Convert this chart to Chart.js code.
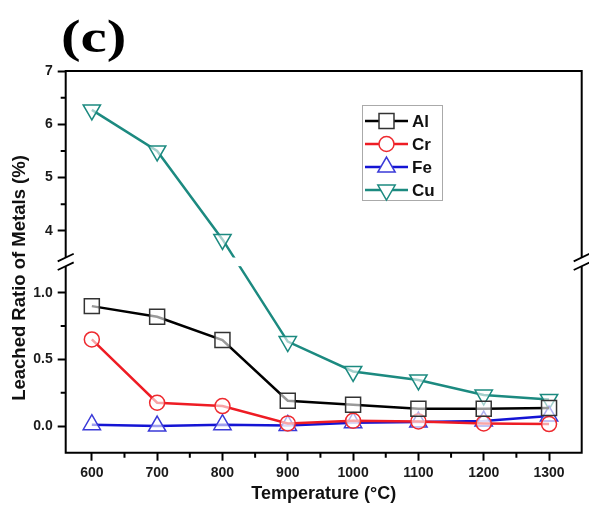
<!DOCTYPE html>
<html><head><meta charset="utf-8">
<script src="https://cdn.jsdelivr.net/npm/chart.js@4/dist/chart.umd.min.js"></script>
<style>html,body{margin:0;padding:0;background:#fff;overflow:hidden;}#wrap{width:589px;height:512px;position:relative;}</style>
</head><body><div id="wrap"><canvas id="c"></canvas></div>
<script>
// ---- data ----
const TEMPERATURES = [600, 700, 800, 900, 1000, 1100, 1200, 1300];
const AL = [0.90, 0.82, 0.645, 0.19, 0.16, 0.13, 0.13, 0.135];
const CR = [0.65, 0.175, 0.15, 0.02, 0.04, 0.035, 0.02, 0.015];
const FE = [0.01, 0.0, 0.01, 0.005, 0.025, 0.03, 0.037, 0.075];
const CU = [6.27, 5.5, 3.84, 0.634, 0.41, 0.346, 0.233, 0.20];
const SERIES_NAMES = ['Al', 'Cr', 'Fe', 'Cu'];
const X_TICKS = [600, 700, 800, 900, 1000, 1100, 1200, 1300];
const X_MINOR = [650, 750, 850, 950, 1050, 1150, 1250];
const Y_TICKS_LOW = [0.0, 0.5, 1.0];
const Y_TICKS_HIGH = [4, 5, 6, 7];
const Y_MINOR = [0.25, 0.75, 4.5, 5.5, 6.5];
const Y_LOW_RANGE = [-0.2, 1.2];
const Y_HIGH_RANGE = [3.5, 7];
const X_RANGE = [560, 1350];
const TITLE_TEXT = '(c)';
const X_TITLE = 'Temperature (\u00B0C)';
const Y_TITLE = 'Leached Ratio of Metals (%)';

const GAP_FRAC = 0.0225;

class BrokenLinearScale extends Chart.LinearScale {
  static id = 'brokenLinear';
  buildTicks() {
    return [...Y_TICKS_LOW, ...Y_TICKS_HIGH].map(v => ({ value: v }));
  }
  _dec(v) {
    const [a, b] = Y_LOW_RANGE, [c, d] = Y_HIGH_RANGE;
    const seg = (1 - GAP_FRAC) / 2;
    if (v <= b) return (v - a) / (b - a) * seg;
    if (v >= c) return seg + GAP_FRAC + (v - c) / (d - c) * seg;
    return seg + (v - b) / (c - b) * GAP_FRAC;
  }
  getPixelForValue(v) {
    if (v === null || v === undefined || isNaN(v)) return NaN;
    return this.getPixelForDecimal(this._dec(v));
  }
  getValueForPixel(p) {
    const f = this.getDecimalForPixel(p);
    const [a, b] = Y_LOW_RANGE, [c, d] = Y_HIGH_RANGE;
    const seg = (1 - GAP_FRAC) / 2;
    if (f <= seg) return a + f / seg * (b - a);
    if (f >= seg + GAP_FRAC) return c + (f - seg - GAP_FRAC) / seg * (d - c);
    return b + (f - seg) / GAP_FRAC * (c - b);
  }
}
Chart.register(BrokenLinearScale);

const pts = arr => TEMPERATURES.map((t, i) => ({ x: t, y: arr[i] }));

const TICK_FONT = { family: '"Liberation Sans", Arial, sans-serif', size: 14, weight: 'bold' };
const MARKER_FILL = 'rgba(255,255,255,0.6)';

const decoPlugin = {
  id: 'deco',
  afterDatasetsDraw(chart) {
    const { ctx, chartArea: ca } = chart;
    const ys = chart.scales.y, xs = chart.scales.x;
    const gTop = ys.getPixelForValue(Y_HIGH_RANGE[0]);
    const gBot = ys.getPixelForValue(Y_LOW_RANGE[1]);
    ctx.save();
    ctx.fillStyle = '#fff';
    ctx.fillRect(ca.left + 1, gTop, ca.right - ca.left - 2, gBot - gTop);
    ctx.strokeStyle = '#000';
    ctx.lineWidth = 2;
    ctx.lineCap = 'butt';
    ctx.beginPath();
    ctx.moveTo(ca.left - 1, ca.top); ctx.lineTo(ca.right + 1, ca.top);
    ctx.moveTo(ca.left - 1, ca.bottom); ctx.lineTo(ca.right + 1, ca.bottom);
    [ca.left, ca.right].forEach(x => {
      ctx.moveTo(x, ca.top); ctx.lineTo(x, gTop);
      ctx.moveTo(x, gBot); ctx.lineTo(x, ca.bottom);
    });
    ctx.stroke();
    ctx.lineWidth = 1.8;
    ctx.beginPath();
    [ca.left, ca.right].forEach(x => {
      [gTop, gBot].forEach(y => {
        ctx.moveTo(x - 8, y + 3.8); ctx.lineTo(x + 8, y - 3.8);
      });
    });
    ctx.stroke();
    ctx.lineWidth = 2;
    ctx.beginPath();
    X_MINOR.forEach(v => {
      const px = xs.getPixelForValue(v);
      ctx.moveTo(px, ca.bottom); ctx.lineTo(px, ca.bottom + 5);
    });
    Y_MINOR.forEach(v => {
      const py = ys.getPixelForValue(v);
      ctx.moveTo(ca.left, py); ctx.lineTo(ca.left - 5, py);
    });
    ctx.stroke();
    ctx.restore();
  },
  afterDraw(chart) {
    const { ctx } = chart;
    ctx.save();
    ctx.save();
    ctx.translate(61, 52);
    ctx.scale(1.28, 1);
    ctx.fillStyle = '#000';
    ctx.font = 'bold 46px "Liberation Serif", "Times New Roman", serif';
    ctx.textBaseline = 'alphabetic';
    ctx.textAlign = 'left';
    ctx.fillText(TITLE_TEXT, 0, 0);
    ctx.restore();
    ctx.save();
    ctx.translate(20, 278);
    ctx.rotate(-Math.PI / 2);
    ctx.font = 'bold 18.5px "Liberation Sans", Arial, sans-serif';
    ctx.textAlign = 'center';
    ctx.textBaseline = 'middle';
    ctx.fillStyle = '#111';
    ctx.fillText(Y_TITLE, 0, 0);
    ctx.restore();
    const bx = 362, by = 105, bw = 80, bh = 95;
    ctx.fillStyle = '#fff';
    ctx.fillRect(bx, by, bw, bh);
    ctx.strokeStyle = '#aaa';
    ctx.lineWidth = 1;
    ctx.strokeRect(bx + 0.5, by + 0.5, bw, bh);
    chart.data.datasets.forEach((ds, i) => {
      const y = 121 + i * 23;
      ctx.strokeStyle = ds.borderColor;
      ctx.lineWidth = ds.borderWidth;
      ctx.beginPath();
      ctx.moveTo(bx + 3, y); ctx.lineTo(bx + 46, y);
      ctx.stroke();
      ctx.fillStyle = '#fff';
      ctx.strokeStyle = ds.pointBorderColor;
      ctx.lineWidth = ds.pointBorderWidth;
      Chart.helpers.drawPoint(ctx, {
        pointStyle: ds.pointStyle, rotation: ds.pointRotation || 0,
        radius: ds.pointRadius, borderWidth: ds.pointBorderWidth
      }, bx + 24.5, y);
      ctx.fillStyle = '#111';
      ctx.font = 'bold 17px "Liberation Sans", Arial, sans-serif';
      ctx.textAlign = 'left';
      ctx.textBaseline = 'middle';
      ctx.fillText(ds.label, bx + 50, y + 1);
    });
    ctx.restore();
  }
};

const mk = (label, arr, color, mcolor, style, radius, rot) => ({
  label, data: pts(arr), borderColor: color, borderWidth: 2.5,
  pointStyle: style, pointRadius: radius, pointRotation: rot,
  pointBorderColor: mcolor, pointBackgroundColor: MARKER_FILL,
  pointBorderWidth: 1.5, tension: 0, fill: false
});

new Chart(document.getElementById('c'), {
  type: 'line',
  data: {
    datasets: [
      mk(SERIES_NAMES[0], AL, '#000000', '#333333', 'rect', 10.6, 0),
      mk(SERIES_NAMES[1], CR, '#ee1c24', '#ee2a2f', 'circle', 7.5, 0),
      mk(SERIES_NAMES[2], FE, '#1414d4', '#3a3ad8', 'triangle', 10, 0),
      mk(SERIES_NAMES[3], CU, '#1c8a80', '#1c8a80', 'triangle', 10, 180)
    ]
  },
  options: {
    responsive: true, maintainAspectRatio: false, animation: false,
    events: [],
    layout: { autoPadding: false, padding: { top: 71, right: 7.3, left: 0, bottom: 7 } },
    plugins: { legend: { display: false }, tooltip: { enabled: false } },
    scales: {
      x: {
        type: 'linear', min: X_RANGE[0], max: X_RANGE[1],
        afterBuildTicks: s => { s.ticks = X_TICKS.map(v => ({ value: v })); },
        afterFit: s => { s.height = 52.3; s.paddingLeft = 0; s.paddingRight = 0; },
        border: { display: false },
        grid: { drawOnChartArea: false, drawTicks: true, tickLength: 8, tickWidth: 2, tickColor: '#000' },
        ticks: { font: TICK_FONT, color: '#1a1a1a', padding: 4, maxRotation: 0, autoSkip: false,
          callback: v => String(v) },
        title: { display: true, text: X_TITLE, color: '#111',
          font: { family: '"Liberation Sans", Arial, sans-serif', size: 18, weight: 'bold' },
          padding: { top: 0, bottom: 0 } }
      },
      y: {
        type: 'brokenLinear', min: Y_LOW_RANGE[0], max: Y_HIGH_RANGE[1],
        afterFit: s => { s.width = 65.7; s.paddingTop = 0; s.paddingBottom = 0; },
        border: { display: false },
        grid: { drawOnChartArea: false, drawTicks: true, tickLength: 8, tickWidth: 2, tickColor: '#000' },
        ticks: { font: TICK_FONT, color: '#1a1a1a', padding: 5, autoSkip: false,
          callback: v => (v < 2 ? v.toFixed(1) : String(v)) }
      }
    }
  },
  plugins: [decoPlugin]
});
</script>
</body></html>
